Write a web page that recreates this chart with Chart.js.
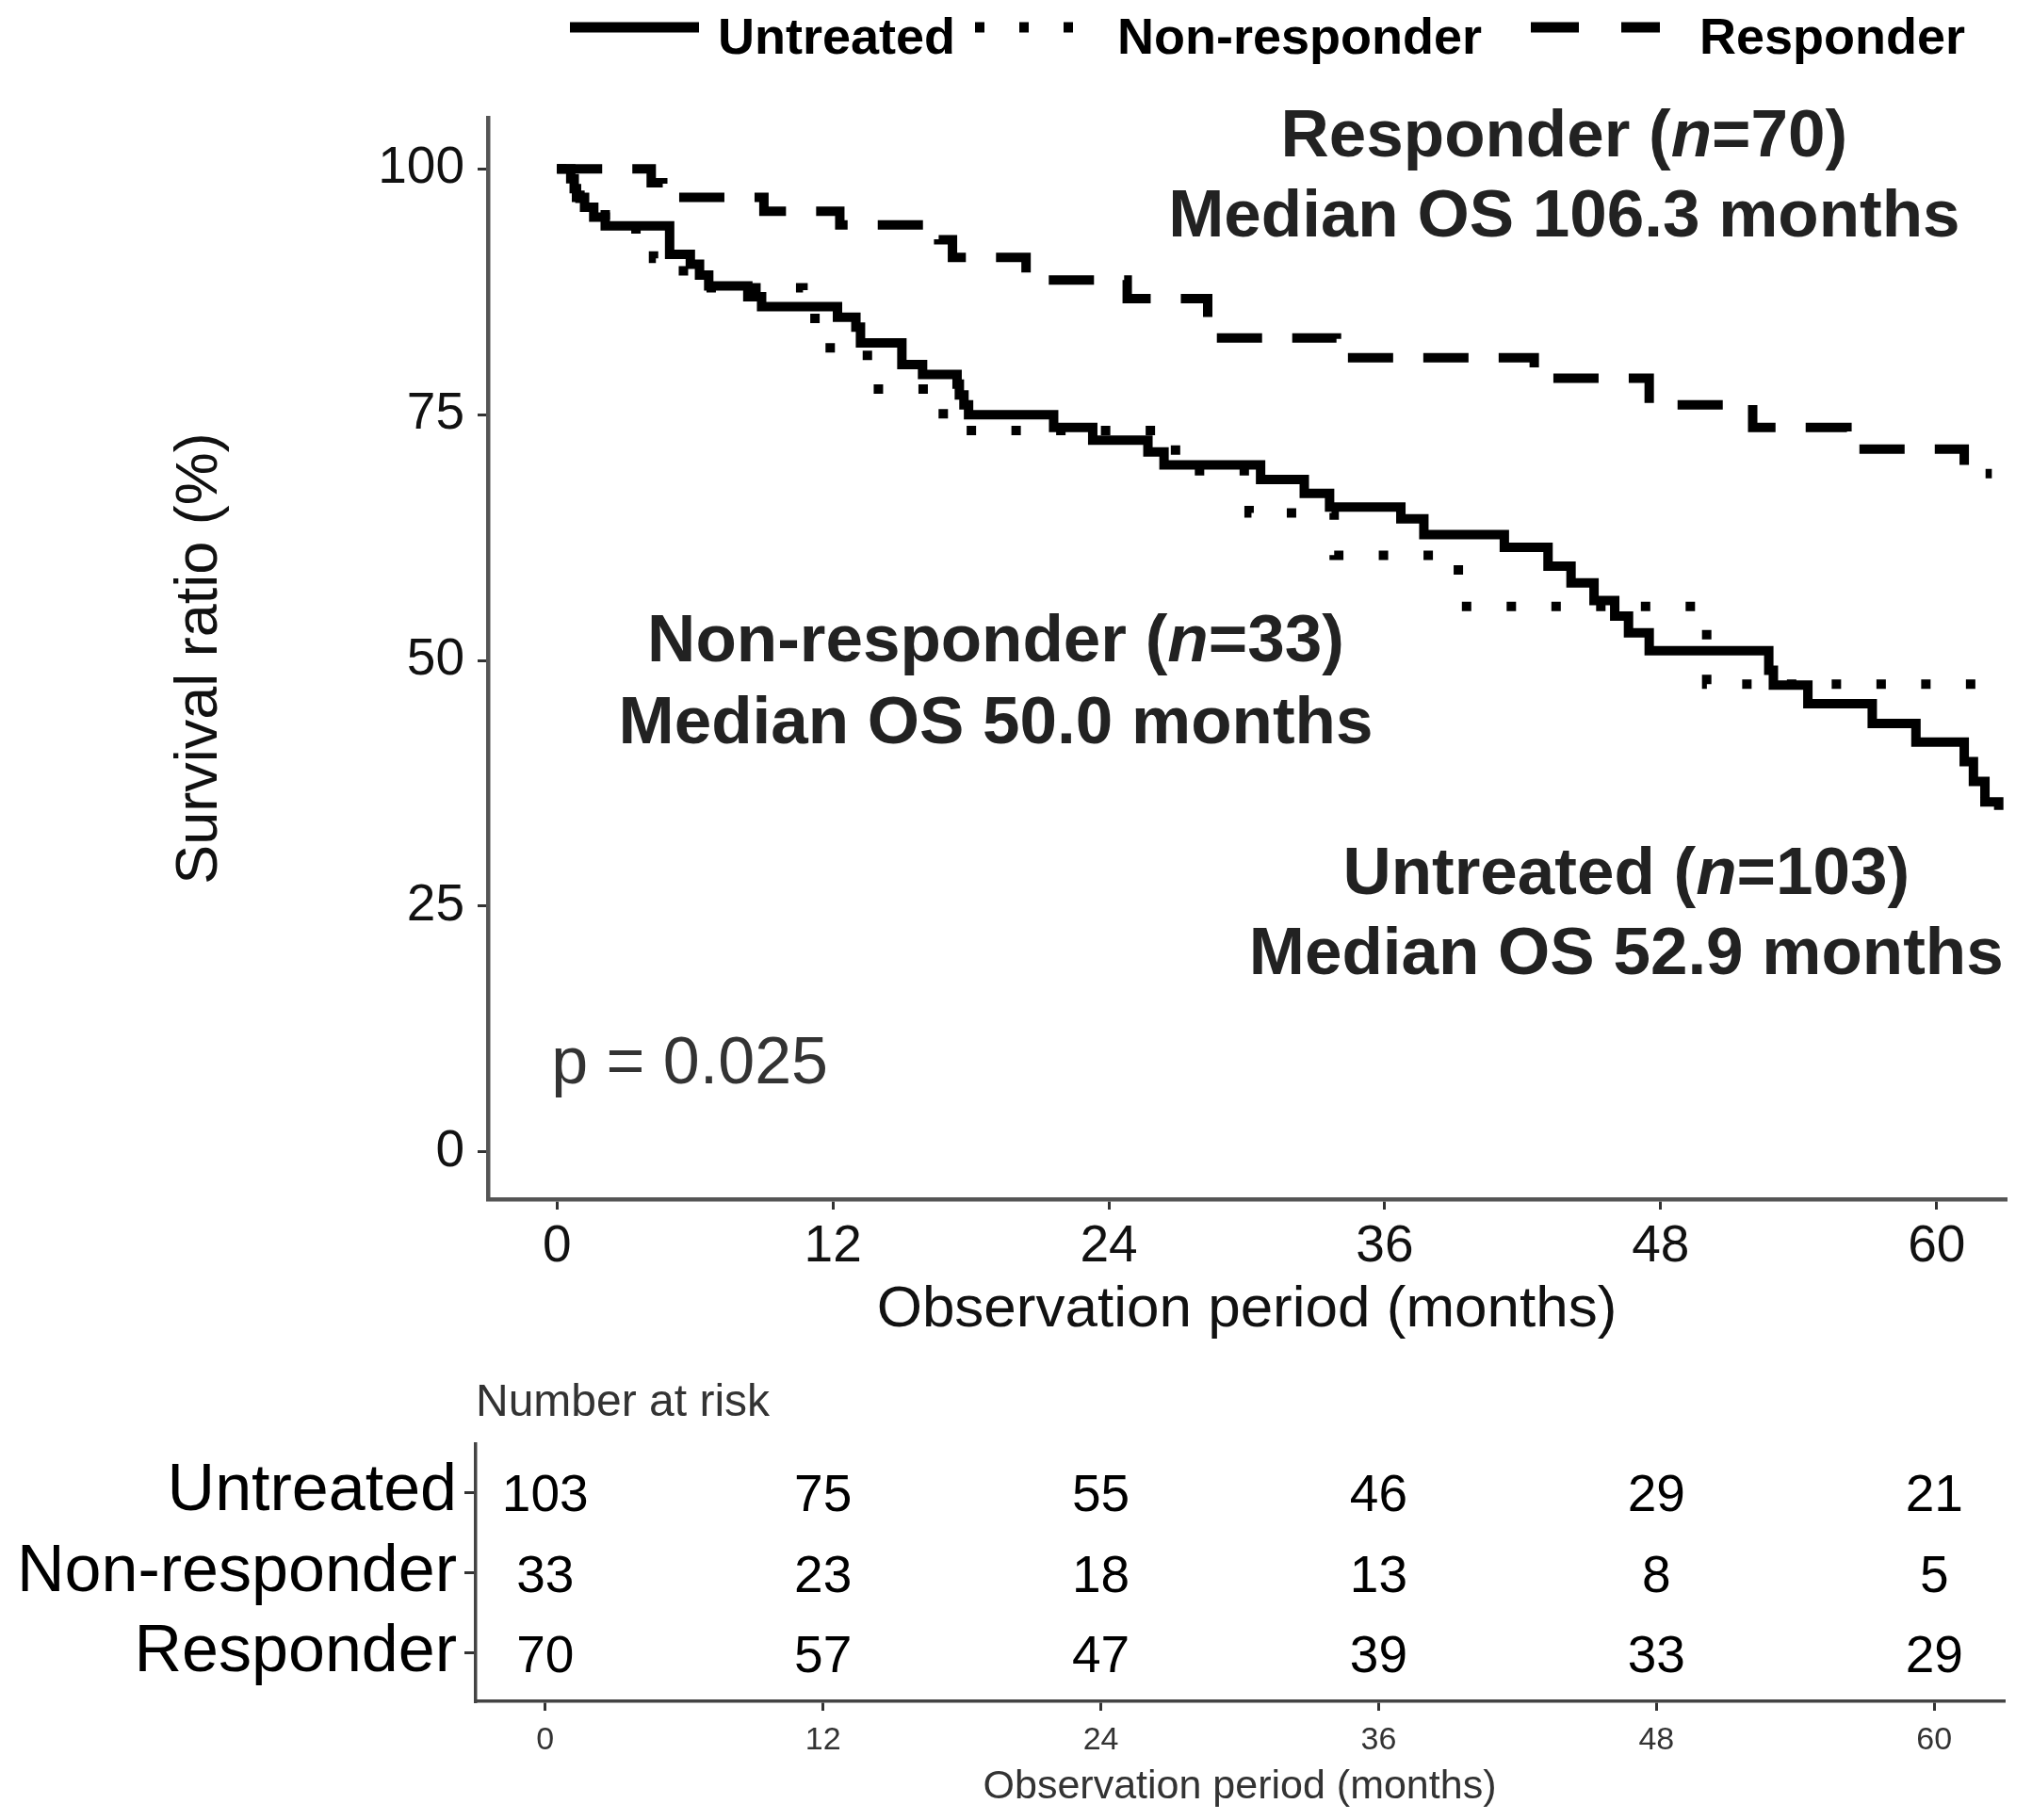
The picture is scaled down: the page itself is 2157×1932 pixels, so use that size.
<!DOCTYPE html>
<html>
<head>
<meta charset="utf-8">
<script src="https://cdn.jsdelivr.net/npm/chart.js@4.4.1/dist/chart.umd.min.js"></script>
<style>
html,body{margin:0;padding:0;background:#ffffff;}
#wrap{position:relative;width:2157px;height:1932px;background:#fff;overflow:hidden;}
canvas{position:absolute;left:0;}
#main{top:0;}
#risk{top:1440px;}
</style>
</head>
<body>
<div id="wrap">
<canvas id="main" width="2157" height="1440"></canvas>
<canvas id="risk" width="2157" height="492"></canvas>
</div>
<script>
// ---------------- data ----------------
const groups = ['Untreated', 'Non-responder', 'Responder'];
const groupN = [103, 33, 70];
const medianOS = ['52.9', '50.0', '106.3'];
const pValue = '0.025';
const xTicks = [0, 12, 24, 36, 48, 60];
const yTicks = [0, 25, 50, 75, 100];

// Kaplan-Meier steps: time (months) of each drop, survival (%) after the drop
const untreatedTime = [0, 0.6, 0.75, 0.85, 1.2, 1.6, 2.1, 4.9, 5.8, 6.2, 6.6, 8.3, 8.9, 12.2, 13.0, 13.2, 15.0, 15.9, 17.4, 17.5, 17.7, 17.9, 21.6, 23.3, 25.7, 26.4, 30.6, 32.5, 33.6, 36.7, 37.7, 41.2, 43.1, 44.1, 45.1, 46.0, 46.6, 47.5, 52.7, 52.9, 54.4, 57.2, 59.1, 61.2, 61.6, 62.1, 62.7];
const untreatedSurv = [100, 99.0, 98.0, 97.1, 96.1, 95.1, 94.2, 91.3, 90.3, 89.2, 88.1, 87.0, 86.0, 84.9, 83.9, 82.3, 80.1, 79.1, 78.1, 77.0, 76.0, 75.0, 73.7, 72.4, 71.2, 69.9, 68.4, 67.0, 65.6, 64.4, 62.8, 61.5, 59.6, 57.9, 56.1, 54.5, 52.8, 51.0, 49.0, 47.5, 45.6, 43.6, 41.7, 39.7, 37.7, 35.6, 34.8];

const nonRespTime = [0, 1.0, 2.1, 4.2, 5.5, 10.7, 11.6, 13.5, 16.8, 26.9, 30.1, 33.8, 39.2, 50.0, 61.8];
const nonRespSurv = [100, 97.0, 93.9, 90.9, 87.9, 84.8, 81.8, 77.6, 73.4, 69.3, 65.0, 60.7, 55.5, 47.6, 47.6];

const respTime = [0, 4.1, 4.6, 9.0, 12.3, 16.6, 17.2, 20.4, 24.8, 28.3, 33.9, 42.5, 47.5, 52.0, 56.1, 61.2, 62.4];
const respSurv = [100, 98.6, 97.1, 95.7, 94.3, 92.8, 91.0, 88.7, 86.8, 82.8, 80.8, 78.7, 76.0, 73.7, 71.5, 69.0, 69.0];

// Number at risk at xTicks
const riskUntreated = [103, 75, 55, 46, 29, 21];
const riskNonResp = [33, 23, 18, 13, 8, 5];
const riskResp = [70, 57, 47, 39, 33, 29];

// ---------------- rendering ----------------
const FONT = "'Liberation Sans', Arial, Helvetica, sans-serif";
Chart.defaults.font.family = FONT;

function toPoints(t, s) { return t.map((v, i) => ({ x: v, y: s[i] })); }

const dashes = [[], [10, 37.5], [48, 32]];
const series = [
  toPoints(untreatedTime, untreatedSurv),
  toPoints(nonRespTime, nonRespSurv),
  toPoints(respTime, respSurv)
];

function drawParts(ctx, parts, cx, cy, size, color) {
  ctx.textBaseline = 'middle';
  ctx.textAlign = 'left';
  ctx.fillStyle = color;
  let total = 0;
  parts.forEach(p => {
    ctx.font = (p.it ? 'italic ' : '') + 'bold ' + size + 'px ' + FONT;
    p.w = ctx.measureText(p.t).width;
    total += p.w;
  });
  let xx = cx - total / 2;
  parts.forEach(p => {
    ctx.font = (p.it ? 'italic ' : '') + 'bold ' + size + 'px ' + FONT;
    ctx.fillText(p.t, xx, cy);
    xx += p.w;
  });
}

const kmPlugin = {
  id: 'kmExtras',
  afterDatasetsDraw(chart) {
    const ctx = chart.ctx, xs = chart.scales.x, ys = chart.scales.y;
    ctx.save();
    const spots = [
      [2, 43.8, 103.1, 95.05],
      [1, 19.08, 51.75, 43.5],
      [0, 46.5, 28.1, 19.95]
    ];
    spots.forEach(([k, mx, y1, y2]) => {
      const cx = xs.getPixelForValue(mx);
      drawParts(ctx, [{ t: groups[k] + ' (' }, { t: 'n', it: true }, { t: '=' + groupN[k] + ')' }], cx, ys.getPixelForValue(y1), 71, '#222');
      drawParts(ctx, [{ t: 'Median OS ' + medianOS[k] + ' months' }], cx, ys.getPixelForValue(y2), 71, '#222');
    });
    ctx.font = '70px ' + FONT;
    ctx.fillStyle = '#333';
    ctx.textAlign = 'left';
    ctx.textBaseline = 'middle';
    ctx.fillText('p = ' + pValue, xs.getPixelForValue(-0.25), ys.getPixelForValue(8.8));
    ctx.restore();
  },
  afterDraw(chart) {
    const ctx = chart.ctx;
    ctx.save();
    const keyX = [605, 1035, 1625];
    const textX = [762, 1186, 1804];
    const keyDash = [[], [10, 37], [51, 45]];
    for (let i = 0; i < 3; i++) {
      ctx.beginPath();
      ctx.setLineDash(keyDash[i]);
      ctx.lineWidth = 11;
      ctx.lineCap = 'butt';
      ctx.strokeStyle = '#000';
      ctx.moveTo(keyX[i], 29);
      ctx.lineTo(keyX[i] + 137, 29);
      ctx.stroke();
      ctx.setLineDash([]);
      ctx.font = 'bold 54px ' + FONT;
      ctx.fillStyle = '#000';
      ctx.textAlign = 'left';
      ctx.textBaseline = 'alphabetic';
      ctx.fillText(chart.data.datasets[i].label, textX[i], 57);
    }
    ctx.restore();
  }
};

new Chart(document.getElementById('main'), {
  type: 'line',
  data: {
    datasets: series.map((d, i) => ({
      label: groups[i],
      data: d,
      borderColor: '#000',
      borderWidth: 10,
      borderDash: dashes[i],
      borderCapStyle: 'butt',
      borderJoinStyle: 'miter',
      stepped: 'before',
      pointRadius: 0,
      pointHoverRadius: 0,
      fill: false,
      tension: 0
    }))
  },
  options: {
    responsive: false,
    animation: false,
    devicePixelRatio: 1,
    layout: { padding: { top: 125, left: 0, right: 28, bottom: 0 } },
    plugins: { legend: { display: false }, tooltip: { enabled: false } },
    scales: {
      x: {
        type: 'linear', min: -3, max: 63,
        afterBuildTicks: s => { s.ticks = xTicks.map(v => ({ value: v })); },
        afterFit: s => { s.height = 167; },
        grid: { drawOnChartArea: false, drawTicks: true, tickLength: 11, color: '#333', lineWidth: 3 },
        border: { display: true, color: '#555', width: 4.5 },
        ticks: { font: { size: 55, lineHeight: 1 }, color: '#111', padding: 12, maxRotation: 0, autoSkip: false },
        title: { display: true, text: 'Observation period (months)', font: { size: 62 }, color: '#111', padding: { top: 0, bottom: 12 } }
      },
      y: {
        type: 'linear', min: -4.8, max: 105.2,
        afterBuildTicks: s => { s.ticks = yTicks.map(v => ({ value: v })); },
        afterFit: s => { s.width = 518; },
        grid: { drawOnChartArea: false, drawTicks: true, tickLength: 11, color: '#333', lineWidth: 3 },
        border: { display: true, color: '#555', width: 4.5 },
        ticks: { font: { size: 55 }, color: '#111', padding: 14 },
        title: { display: true, text: 'Survival ratio (%)', font: { size: 63 }, color: '#111', padding: { top: 175, bottom: 0 } }
      }
    }
  },
  plugins: [kmPlugin]
});

const riskPlugin = {
  id: 'riskNums',
  afterDraw(chart) {
    const ctx = chart.ctx, xs = chart.scales.x, ys = chart.scales.y;
    const rows = [riskUntreated, riskNonResp, riskResp];
    ctx.save();
    ctx.font = '55px ' + FONT;
    ctx.fillStyle = '#000';
    ctx.textAlign = 'center';
    ctx.textBaseline = 'middle';
    rows.forEach((row, r) => row.forEach((v, i) => {
      ctx.fillText(String(v), xs.getPixelForValue(xTicks[i]), ys.getPixelForValue(r + 1) + 5);
    }));
    ctx.font = '48px ' + FONT;
    ctx.fillStyle = '#333';
    ctx.textAlign = 'left';
    ctx.textBaseline = 'alphabetic';
    ctx.fillText('Number at risk', 505, 63);
    ctx.restore();
  }
};

new Chart(document.getElementById('risk'), {
  type: 'scatter',
  data: { datasets: [] },
  options: {
    responsive: false,
    animation: false,
    devicePixelRatio: 1,
    layout: { padding: { top: 93, left: 0, right: 30, bottom: 0 } },
    plugins: { legend: { display: false }, tooltip: { enabled: false } },
    scales: {
      x: {
        type: 'linear', min: -3, max: 63,
        afterBuildTicks: s => { s.ticks = xTicks.map(v => ({ value: v })); },
        afterFit: s => { s.height = 126; },
        grid: { drawOnChartArea: false, drawTicks: true, tickLength: 10, color: '#333', lineWidth: 3 },
        border: { display: true, color: '#444', width: 3.5 },
        ticks: { font: { size: 34, lineHeight: 1 }, color: '#333', padding: 15, maxRotation: 0, autoSkip: false },
        title: { display: true, text: 'Observation period (months)', font: { size: 43 }, color: '#333', padding: { top: 0, bottom: 9 } }
      },
      y: {
        type: 'linear', min: 0.4, max: 3.6, reverse: true,
        afterBuildTicks: s => { s.ticks = [1, 2, 3].map(v => ({ value: v })); },
        afterFit: s => { s.width = 505; },
        grid: { drawOnChartArea: false, drawTicks: true, tickLength: 12, color: '#333', lineWidth: 3 },
        border: { display: true, color: '#444', width: 3.5 },
        ticks: { font: { size: 70 }, color: '#000', padding: 8, callback: v => groups[Math.round(v) - 1] }
      }
    }
  },
  plugins: [riskPlugin]
});
</script>
</body>
</html>
